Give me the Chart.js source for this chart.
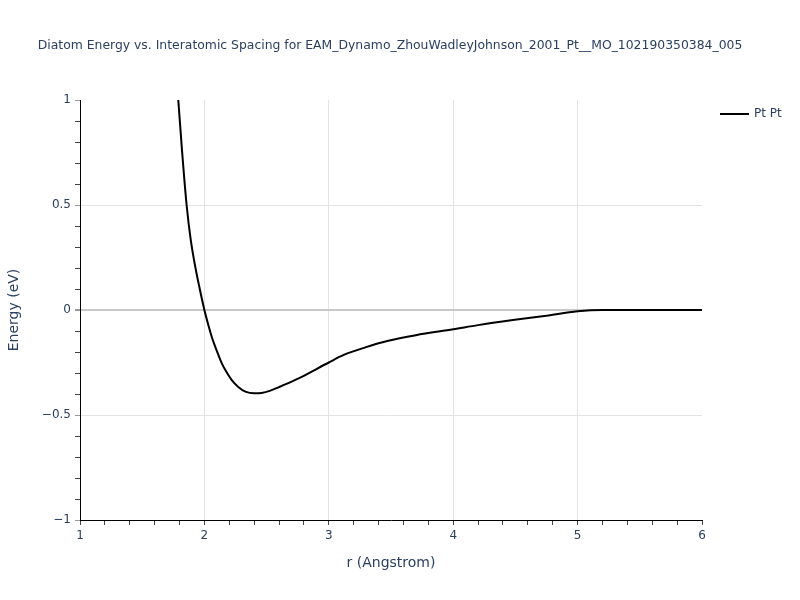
<!DOCTYPE html>
<html>
<head>
<meta charset="utf-8">
<script src="https://cdn.jsdelivr.net/npm/chart.js@4/dist/chart.umd.min.js"></script>
<style>
  html, body { margin: 0; padding: 0; background: #fff; }
  canvas { display: block; }
</style>
</head>
<body>
<canvas id="c" width="800" height="600"></canvas>
<script>
// Pt-Pt diatom energy curve
const rValues = [1.75, 1.79, 1.82, 1.857, 1.89, 1.93, 1.96, 2.0, 2.03, 2.06, 2.1, 2.14, 2.18, 2.22, 2.27, 2.33, 2.40, 2.46, 2.53, 2.60, 2.66, 2.77, 3.0, 3.12, 3.3, 3.47, 3.7, 4.0, 4.2, 4.48, 4.75, 5.0, 5.2, 6.0];
const energyValues = [1.35, 1.0, 0.76, 0.5, 0.335, 0.195, 0.108, 0.0, -0.068, -0.13, -0.195, -0.254, -0.298, -0.334, -0.365, -0.389, -0.397, -0.395, -0.384, -0.367, -0.352, -0.322, -0.25, -0.214, -0.177, -0.148, -0.12, -0.092, -0.072, -0.048, -0.027, -0.006, 0.0, 0.0];
const seriesName = 'Pt Pt';
const titleText = 'Diatom Energy vs. Interatomic Spacing for EAM_Dynamo_ZhouWadleyJohnson_2001_Pt__MO_102190350384_005';
const xTitle = 'r (Angstrom)';
const yTitle = 'Energy (eV)';

const txt = '#2a3f5f';
const font = '"DejaVu Sans", Verdana, sans-serif';
const near = (v, step) => Math.abs(v / step - Math.round(v / step)) < 1e-6;
const fmt = v => (v < 0 ? '\u2212' : '') + String(Math.abs(Math.round(v * 10) / 10));

const decorations = {
  id: 'decorations',
  afterDraw(chart) {
    const ctx = chart.ctx;
    const a = chart.chartArea;
    ctx.save();
    ctx.fillStyle = txt;
    ctx.textBaseline = 'middle';
    // title
    ctx.font = '12.4px ' + font;
    ctx.textAlign = 'center';
    ctx.fillText(titleText, 390, 46);
    // axis titles
    ctx.font = '14px ' + font;
    ctx.fillText(xTitle, (a.left + a.right) / 2, 563);
    ctx.translate(14, (a.top + a.bottom) / 2);
    ctx.rotate(-Math.PI / 2);
    ctx.fillText(yTitle, 0, 0);
    ctx.restore();
    // legend
    ctx.save();
    ctx.strokeStyle = '#000';
    ctx.lineWidth = 2;
    ctx.beginPath();
    ctx.moveTo(720, 114);
    ctx.lineTo(749, 114);
    ctx.stroke();
    ctx.fillStyle = txt;
    ctx.font = '12px ' + font;
    ctx.textBaseline = 'middle';
    ctx.textAlign = 'left';
    ctx.fillText(seriesName, 754, 114);
    ctx.restore();
  }
};

new Chart(document.getElementById('c'), {
  type: 'scatter',
  data: {
    datasets: [{
      label: seriesName,
      data: rValues.map((r, i) => ({ x: r, y: energyValues[i] })),
      showLine: true,
      borderColor: '#000',
      borderWidth: 2,
      pointRadius: 0,
      cubicInterpolationMode: 'monotone',
      fill: false,
    }],
  },
  options: {
    responsive: false,
    animation: false,
    layout: { padding: { top: 100, right: 98, left: 0, bottom: 0 } },
    plugins: { legend: { display: false }, title: { display: false }, tooltip: { enabled: false } },
    scales: {
      x: {
        type: 'linear', min: 1, max: 6,
        afterFit: s => { s.height = 80; },
        border: { display: true, color: '#000', width: 1 },
        grid: {
          color: c => (near(c.tick.value, 1) && c.tick.value > 1.5 && c.tick.value < 5.5) ? '#e3e3e3' : 'rgba(0,0,0,0)',
          tickColor: '#444',
          tickLength: 5,
          drawTicks: true,
        },
        ticks: {
          stepSize: 0.2, autoSkip: false, maxRotation: 0, padding: 4,
          color: txt, font: { family: font, size: 12 },
          callback: v => near(v, 1) ? fmt(v) : '',
        },
      },
      y: {
        type: 'linear', min: -1, max: 1,
        afterFit: s => { s.width = 80; },
        border: { display: true, color: '#000', width: 1 },
        grid: {
          color: c => {
            const v = c.tick.value;
            if (near(v, 1) && Math.abs(v) < 0.01) return '#c8c8c8';
            if (near(v, 0.5) && Math.abs(v) < 0.9) return '#e3e3e3';
            return 'rgba(0,0,0,0)';
          },
          lineWidth: c => Math.abs(c.tick.value) < 0.01 ? 2 : 1,
          tickColor: c => near(c.tick.value, 0.5) ? '#999' : '#444',
          tickLength: 5,
        },
        ticks: {
          stepSize: 0.1, autoSkip: false, padding: 4,
          color: txt, font: { family: font, size: 12 },
          callback: v => near(v, 0.5) ? fmt(v) : '',
        },
      },
    },
  },
  plugins: [decorations],
});
</script>
</body>
</html>
